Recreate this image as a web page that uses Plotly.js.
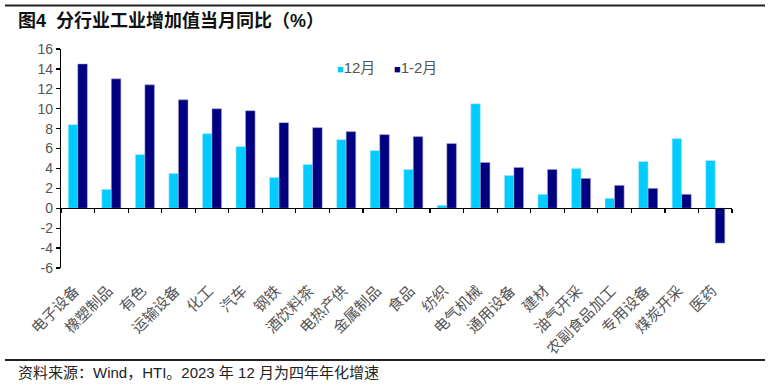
<!DOCTYPE html>
<html>
<head>
<meta charset="utf-8">
<script src="https://cdn.plot.ly/plotly-3.0.1.min.js"></script>
<style>
  html, body { margin: 0; padding: 0; background: #fff; }
  #chart { width: 769px; height: 385px; }
</style>
</head>
<body>
<div id="chart"></div>
<script>
// Industry names (x categories)
const industries = [
  '电子设备', '橡塑制品', '有色', '运输设备', '化工', '汽车', '钢铁', '酒饮料茶',
  '电热产供', '金属制品', '食品', '纺织', '电气机械', '通用设备', '建材', '油气开采',
  '农副食品加工', '专用设备', '煤炭开采', '医药'
];

// Value added YoY, December (%)
const decValues = [
  8.4, 1.9, 5.4, 3.5, 7.5, 6.2, 3.1, 4.4,
  6.9, 5.8, 3.9, 0.3, 10.5, 3.3, 1.4, 4.0,
  1.0, 4.7, 7.0, 4.8
];

// Value added YoY, January–February (%)
const janFebValues = [
  14.5, 13.0, 12.4, 10.9, 10.0, 9.8, 8.6, 8.1,
  7.7, 7.4, 7.2, 6.5, 4.6, 4.1, 3.9, 3.0,
  2.3, 2.0, 1.4, -3.5
];

const seriesNames = ['12月', '1-2月'];
const seriesColors = ['#00CCFF', '#000080'];
const yTicks = [-6, -4, -2, 0, 2, 4, 6, 8, 10, 12, 14, 16];

const cjk = '"Noto Sans CJK SC", "Noto Sans", sans-serif';
const latin = 'Arial, "Liberation Sans", "Noto Sans CJK SC", sans-serif';

// pixel helpers for the plot box (l=61, r=732, t=49, b=268)
const W = 769, H = 385, L = 61, R = 732, T = 49, B = 268;
const px = x => (x - L) / (R - L);
const py = y => (B - y) / (B - T);

const traces = [
  {
    type: 'bar', name: seriesNames[0], x: industries, y: decValues, showlegend: false,
    marker: { color: seriesColors[0], line: { color: 'rgba(200,235,255,0.9)', width: 0.6 } }
  },
  {
    type: 'bar', name: seriesNames[1], x: industries, y: janFebValues, showlegend: false,
    marker: { color: seriesColors[1], line: { color: 'rgba(170,170,220,0.9)', width: 0.6 } }
  },
  // empty trace carrying the zero-line axis with category-boundary ticks
  {
    type: 'bar', x: industries, y: industries.map(() => null), xaxis: 'x2',
    showlegend: false, hoverinfo: 'skip'
  }
];

// legend drawn as text: a coloured square followed by the series name
const legendItems = seriesNames.map((name, i) => ({
  xref: 'paper', yref: 'paper', x: px([335, 392][i]), y: py(67),
  xanchor: 'left', yanchor: 'middle', showarrow: false,
  text: '<span style="font-size:11px;color:' + seriesColors[i] + '">■</span>' + name,
  font: { family: latin, size: 15, color: '#555' }
}));

const layout = {
  width: W, height: H,
  margin: { l: L, r: W - R, t: T, b: H - B },
  paper_bgcolor: '#fff', plot_bgcolor: '#fff',
  barmode: 'group', bargap: 0.43, bargroupgap: 0,
  showlegend: false,
  font: { family: latin, color: '#555', size: 13 },
  title: {
    text: '<b>图4  分行业工业增加值当月同比（%）</b>',
    font: { family: latin, size: 18, color: '#111' },
    x: 18 / W, xanchor: 'left', xref: 'container',
    y: 1 - 21 / H, yanchor: 'middle', yref: 'container'
  },
  xaxis: {
    type: 'category', showline: false, showgrid: false, zeroline: false,
    ticks: '', tickangle: -45, ticklabelshift: -3, ticklabelstandoff: 10,
    tickfont: { family: cjk, size: 15, color: '#555' }
  },
  xaxis2: {
    type: 'category', overlaying: 'x', anchor: 'free',
    position: (0 - (-6)) / (16 - (-6)),
    showline: true, linecolor: '#000', linewidth: 1.2,
    ticks: 'outside', tickson: 'boundaries', ticklen: 4, tickcolor: '#000', tickwidth: 1.2,
    showticklabels: false, showgrid: false, zeroline: false
  },
  yaxis: {
    range: [-6, 16], tickvals: yTicks, ticktext: yTicks.map(String),
    showline: true, linecolor: '#000', linewidth: 1.2,
    ticks: 'outside', ticklen: 4, tickcolor: '#000', tickwidth: 1.2,
    showgrid: false, zeroline: false,
    tickfont: { family: latin, size: 14, color: '#555' }
  },
  shapes: [
    { type: 'line', xref: 'paper', yref: 'paper', x0: px(5), x1: px(765), y0: py(5.5), y1: py(5.5),
      line: { color: '#222', width: 2 } },
    { type: 'line', xref: 'paper', yref: 'paper', x0: px(5), x1: px(765), y0: py(360), y1: py(360),
      line: { color: '#222', width: 2 } }
  ],
  annotations: legendItems.concat([
    { xref: 'paper', yref: 'paper', x: px(16), y: py(372), xanchor: 'left', yanchor: 'middle',
      showarrow: false, text: '资料来源：Wind，HTI。2023 年 12 月为四年年化增速',
      font: { family: latin, size: 15, color: '#222' } }
  ])
};

Plotly.newPlot('chart', traces, layout, { displayModeBar: false, staticPlot: true });
</script>
</body>
</html>
